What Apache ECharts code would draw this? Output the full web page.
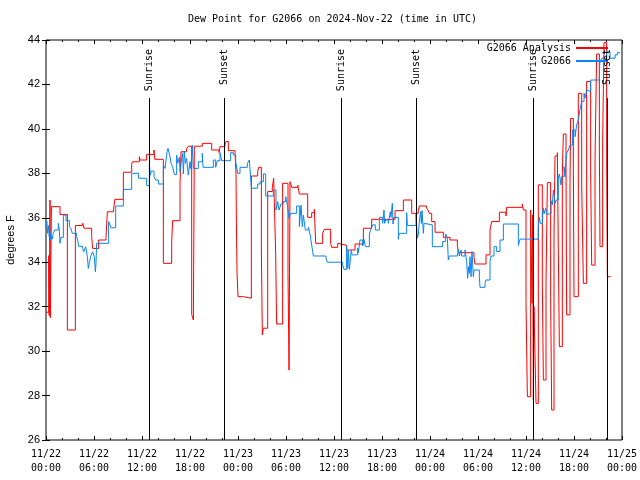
<!DOCTYPE html>
<html><head><meta charset="utf-8">
<script src="https://cdn.jsdelivr.net/npm/echarts@6/dist/echarts.min.js"></script>
<style>html,body{margin:0;padding:0;background:#fff}#c{width:640px;height:480px}</style>
</head><body><div id="c"></div>
<script>
const titleText = 'Dew Point for G2066 on 2024-Nov-22 (time in UTC)';
const yAxisName = 'degrees F';
const xTickLabels = ['11/22\n00:00','11/22\n06:00','11/22\n12:00','11/22\n18:00','11/23\n00:00','11/23\n06:00','11/23\n12:00','11/23\n18:00','11/24\n00:00','11/24\n06:00','11/24\n12:00','11/24\n18:00','11/25\n00:00'];
// hours since 11/22 00:00 UTC
const analysisHours = [0.00,0.35,0.40,0.45,0.50,0.55,0.60,0.68,1.75,2.67,3.67,4.58,4.75,5.71,5.83,6.58,7.50,7.67,8.42,8.60,9.67,10.71,10.80,11.67,11.75,12.58,13.50,13.60,14.67,15.71,15.83,16.75,16.88,17.58,17.79,18.21,18.42,18.54,19.54,20.71,21.63,21.75,22.38,22.50,22.79,23.63,23.75,23.80,23.88,24.00,24.67,25.67,26.46,26.58,26.92,27.04,27.17,27.71,28.29,28.46,28.71,28.83,29.58,30.25,30.38,30.50,30.71,31.46,31.67,32.71,33.21,33.54,33.71,34.58,34.79,35.58,35.71,36.46,36.67,37.58,38.63,39.67,40.71,43.63,44.67,45.71,46.54,46.67,47.58,47.79,47.92,48.21,48.63,49.67,50.50,51.42,51.54,53.50,53.63,55.00,55.50,55.71,56.67,57.50,57.58,59.54,59.67,60.00,60.17,60.58,60.75,60.83,60.92,61.00,61.25,61.54,62.04,62.17,62.50,62.67,63.08,63.21,63.50,63.63,63.92,64.04,64.17,64.54,64.67,65.00,65.08,65.50,65.58,65.92,66.00,66.54,66.96,67.17,67.58,68.08,68.21,68.63,68.83,69.17,69.25,69.58,69.75,70.08,70.17,70.58];
const analysisValues = [31.75,34.3,31.6,34.2,36.8,31.5,34.0,36.5,36.15,30.95,35.65,35.75,35.53,35.15,34.62,35.0,35.12,36.27,36.35,36.83,38.05,38.4,38.52,38.75,38.6,38.85,39.05,38.63,33.95,34.9,35.87,37.5,38.97,39.12,39.22,31.65,31.4,39.22,39.35,39.05,38.93,39.2,39.32,39.43,39.02,38.9,38.0,35.75,33.5,32.45,32.38,37.88,38.08,38.27,34.55,30.73,31.03,37.18,37.37,37.78,34.4,31.22,37.55,33.43,29.15,37.62,37.37,37.47,37.07,36.02,36.23,36.38,34.85,35.3,35.48,34.85,34.67,34.85,34.76,34.55,34.82,35.53,35.93,36.32,36.8,36.2,36.35,36.53,36.43,36.32,36.2,35.83,35.35,35.12,35.0,34.78,34.43,34.22,33.92,34.33,35.45,35.83,36.25,36.08,36.47,36.62,36.35,32.15,27.95,36.35,32.15,36.13,27.8,32.0,27.65,37.48,33.05,28.7,33.05,37.58,32.45,27.35,35.3,38.78,38.93,34.55,30.2,38.0,39.77,38.3,31.63,37.55,40.47,38.15,32.45,41.6,37.55,33.05,42.13,38.08,33.87,38.67,43.37,39.13,34.7,39.35,43.88,38.67,33.35,33.35];
const obsHours = [0.00,0.10,0.20,0.30,0.40,0.50,0.60,0.70,0.80,0.90,1.10,1.54,1.67,1.75,1.88,2.17,2.50,2.92,3.13,3.29,3.83,3.96,4.08,4.58,4.71,4.96,5.17,5.29,5.42,5.50,5.63,5.83,6.04,6.17,6.25,6.33,7.83,8.00,8.13,8.71,9.67,10.71,11.58,12.58,12.92,13.04,13.17,13.50,13.71,14.04,14.67,14.88,15.13,15.25,15.50,15.63,15.83,16.04,16.33,16.46,16.67,16.75,16.88,17.08,17.17,17.29,17.42,17.58,17.79,18.00,18.08,18.21,18.29,18.42,19.04,19.54,19.63,20.92,21.21,21.42,21.75,21.96,23.08,23.42,23.71,23.96,24.25,25.17,25.42,25.67,26.46,26.75,27.17,27.46,28.42,28.75,28.96,29.13,29.38,29.67,29.96,30.17,30.38,30.58,31.33,31.67,31.88,32.04,32.17,32.42,32.79,33.00,33.21,33.42,35.00,35.17,37.08,37.25,37.58,37.71,37.79,37.92,38.17,38.25,38.96,39.04,39.25,39.58,39.75,39.92,40.42,40.58,40.83,41.17,41.67,42.08,42.25,42.33,42.46,42.79,43.04,43.13,43.29,43.38,43.46,44.04,44.13,45.08,45.17,46.25,46.42,46.54,46.67,46.83,46.92,47.00,47.17,47.25,47.50,48.29,49.58,49.96,50.17,50.29,50.42,51.42,51.54,51.67,51.88,51.96,52.38,52.50,52.58,52.71,52.79,52.92,53.00,53.13,53.25,53.42,53.50,54.17,54.25,54.88,55.00,55.50,55.63,56.00,56.33,56.75,57.17,59.04,59.25,61.54,61.67,61.79,62.08,62.17,62.25,62.46,62.58,63.13,63.29,63.42,63.63,63.75,64.04,64.17,64.38,64.46,64.75,64.88,65.08,65.29,65.50,65.83,66.13,66.33,66.54,66.75,66.96,67.25,67.38,67.58,67.79,68.08,68.42,68.63,69.17,69.25,69.46,70.08,70.50,71.13,71.42,71.75];
const obsValues = [35.6,35.85,35.3,35.65,35.15,35.4,35.0,35.2,35.05,35.3,35.45,35.75,35.45,34.85,35.12,36.12,35.87,35.6,35.5,35.3,35.15,35.0,34.72,34.62,34.47,34.7,34.25,33.72,34.0,34.07,34.3,34.47,34.25,33.57,33.95,34.85,35.83,35.68,35.55,36.53,37.28,38.0,37.78,37.45,38.42,37.92,38.1,37.85,37.7,37.52,38.37,38.22,38.97,39.12,38.75,38.45,38.3,37.95,38.82,38.45,38.72,38.08,38.45,38.9,37.97,39.0,38.45,38.67,37.92,38.52,38.22,38.78,39.27,38.22,38.52,38.9,38.27,38.6,38.27,38.57,38.93,38.57,38.93,38.83,38.52,38.0,38.27,38.45,38.6,37.33,37.52,37.62,37.97,36.98,37.25,36.35,36.73,36.35,36.62,36.73,36.95,36.57,35.98,36.2,36.53,35.6,36.57,35.6,36.12,35.45,35.57,35.27,34.78,34.28,34.18,34.0,33.88,33.68,34.7,33.72,34.52,33.68,34.55,34.33,34.63,34.43,35.0,34.73,35.03,34.7,35.27,35.45,35.68,35.45,36.02,35.75,36.35,35.75,35.9,35.75,36.27,36.02,36.65,35.72,36.02,35.03,35.3,36.23,35.65,36.2,35.08,35.23,35.83,36.28,35.75,36.32,35.3,35.75,35.68,34.7,34.93,35.27,35.08,34.1,34.28,34.33,34.58,34.28,34.55,34.28,34.55,34.48,34.03,33.28,33.8,33.5,34.25,33.35,34.48,33.35,33.65,33.35,32.87,33.05,33.2,34.03,34.28,34.7,34.48,35.0,35.72,34.75,35.04,35.6,36.02,35.75,36.28,36.43,36.17,36.43,36.17,36.77,36.58,37.25,36.65,36.8,37.78,37.97,37.48,37.85,38.3,37.85,38.9,39.05,39.27,39.95,39.65,40.18,40.4,40.88,41.23,41.6,41.38,41.75,41.68,42.2,42.28,42.2,42.65,43.03,43.18,43.47,43.18,43.33,43.43,43.43];
const eventHours = [12.92,22.29,36.92,46.25,60.88,70.17];
const eventNames = ['Sunrise','Sunset','Sunrise','Sunset','Sunrise','Sunset'];

const mono = 'DejaVu Sans Mono';
const sans = 'Liberation Sans';
const Y_MIN = 26, Y_MAX = 44, EVENT_LINE_TOP = 41.39;

const eventMarks = [];
eventHours.forEach((h, i) => {
  eventMarks.push([{coord:[h, Y_MIN]}, {coord:[h, EVENT_LINE_TOP]}]);
  eventMarks.push([{coord:[h, Y_MIN], lineStyle:{color:'rgba(0,0,0,0)'},
    label:{show:true, position:'insideEnd', formatter: eventNames[i], distance: 9,
      color:'#000', fontFamily: mono, fontSize: 10}}, {coord:[h, Y_MAX]}]);
});

const chart = echarts.init(document.getElementById('c'), null, {renderer:'canvas'});
const xCommon = {type:'value', min:0, max:72, interval:6,
  axisLine:{show:false}, splitLine:{show:false},
  axisTick:{show:true, inside:true, length:4, lineStyle:{color:'#000'}},
  minorTick:{show:true, splitNumber:3, length:2, lineStyle:{color:'#000'}},
  minorSplitLine:{show:false}};
const legendCommon = {right:31, align:'right', orient:'vertical', itemWidth:32, itemHeight:12, padding:0, selectedMode:false,
  itemStyle:{opacity:0}, textStyle:{fontFamily:mono, fontSize:10, color:'#000'}};
chart.setOption({
  animation:false,
  backgroundColor:'#fff',
  title:{text:titleText, left:188, top:14, padding:0,
    textStyle:{fontFamily:mono, fontSize:10, fontWeight:'normal', color:'#000'}},
  grid:{left:46, right:18, top:40, bottom:40, show:true, borderColor:'#000', borderWidth:1, backgroundColor:'transparent',
    containLabel:false, outerBoundsMode:'none'},
  legend:[
    Object.assign({data:['G2066 Analysis'], top:43}, legendCommon),
    Object.assign({data:['G2066'], top:56}, legendCommon)
  ],
  xAxis:[
    Object.assign({}, xCommon, {position:'bottom',
      axisLabel:{show:true, margin:7, color:'#000', fontFamily:mono, fontSize:10, lineHeight:14,
        formatter:(v)=> xTickLabels[Math.round(v/6)]}}),
    Object.assign({}, xCommon, {position:'top', axisLabel:{show:false}})
  ],
  yAxis:[
    {type:'value', min:Y_MIN, max:Y_MAX, interval:2, position:'left',
      name:yAxisName, nameLocation:'middle', nameGap:30, nameRotate:90,
      nameTextStyle:{fontFamily:sans, fontSize:11, color:'#000'},
      axisLine:{show:false}, splitLine:{show:false},
      axisTick:{show:true, inside:true, length:4, lineStyle:{color:'#000'}},
      axisLabel:{color:'#000', fontFamily:sans, fontSize:11, margin:6}},
    {type:'value', min:Y_MIN, max:Y_MAX, interval:2, position:'right',
      axisLine:{show:false}, splitLine:{show:false},
      axisTick:{show:true, inside:true, length:4, lineStyle:{color:'#000'}},
      axisLabel:{show:false}}
  ],
  series:[
    {name:'events', type:'line', data:[], silent:true, z:3,
      markLine:{symbol:'none', silent:true, animation:false,
        lineStyle:{color:'#000', width:1, type:'solid'},
        label:{show:false}, emphasis:{disabled:true},
        data:eventMarks}},
    {name:'G2066 Analysis', type:'line', step:'end', symbol:'none', showSymbol:false,
      data:analysisHours.map((h,i)=>[h, analysisValues[i]]),
      lineStyle:{color:'#ff0000', width:1}, itemStyle:{color:'#ff0000'}, z:2},
    {name:'G2066', type:'line', step:'end', symbol:'none', showSymbol:false,
      data:obsHours.map((h,i)=>[h, obsValues[i]]),
      lineStyle:{color:'#0a84f0', width:1}, itemStyle:{color:'#0a84f0'}, z:2}
  ]
});
</script></body></html>
